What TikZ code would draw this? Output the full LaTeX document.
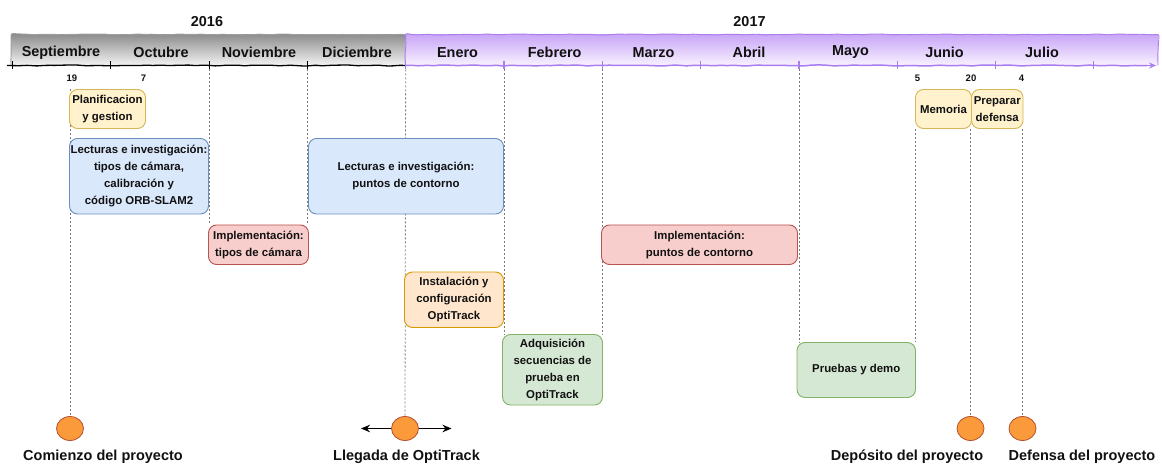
\documentclass[tikz,border=0pt]{standalone}
\usepackage{fontspec}
\setmainfont{Liberation Sans}
\usetikzlibrary{arrows.meta,shapes.geometric,decorations.pathmorphing,calc}
\definecolor{yelF}{HTML}{FFF2CC}\definecolor{yelD}{HTML}{D6B656}
\definecolor{bluF}{HTML}{DAE8FC}\definecolor{bluD}{HTML}{6C8EBF}
\definecolor{redF}{HTML}{F8CECC}\definecolor{redD}{HTML}{B85450}
\definecolor{orgF}{HTML}{FFE6CC}\definecolor{orgD}{HTML}{D79B00}
\definecolor{grnF}{HTML}{D5E8D4}\definecolor{grnD}{HTML}{82B366}
\definecolor{milF}{HTML}{FA9A3A}\definecolor{milD}{HTML}{B5502E}
\definecolor{purT}{HTML}{C9A6F7}\definecolor{purB}{HTML}{F8F2FF}\definecolor{purD}{HTML}{A97CEF}
\definecolor{gryT}{HTML}{8E8E8E}\definecolor{gryB}{HTML}{F4F4F4}
\definecolor{guideC}{HTML}{7A7A7A}
\definecolor{txt}{HTML}{111111}
\pgfdeclarelayer{background}
\pgfsetlayers{background,main}
\tikzset{
  task/.style={rounded corners=8pt, line width=0.9pt, align=center, inner sep=1pt,
    font=\fontsize{11.4}{17}\selectfont\bfseries, text=txt},
  yel/.style={task, fill=yelF, draw=yelD},
  blu/.style={task, fill=bluF, draw=bluD},
  red/.style={task, fill=redF, draw=redD},
  org/.style={task, fill=orgF, draw=orgD},
  grn/.style={task, fill=grnF, draw=grnD},
  mile/.style={ellipse, minimum width=27pt, minimum height=24pt, inner sep=0pt,
    fill=milF, draw=milD, line width=0.8pt},
  month/.style={font=\fontsize{14.4}{16}\selectfont\bfseries, text=txt},
  yearlbl/.style={font=\fontsize{14.4}{16}\selectfont\bfseries, text=txt},
  datelbl/.style={font=\fontsize{9.5}{11}\selectfont\bfseries, text=txt},
  bigcap/.style={font=\fontsize{14.5}{16}\selectfont\bfseries, text=txt},
  guide/.style={draw=guideC, line width=0.8pt, dash pattern=on 2pt off 2pt},
  sketch/.style={rounded corners=2pt, decorate,
    decoration={random steps, segment length=7pt, amplitude=0.55pt}},
  twoway/.style={draw=black, line width=1.6pt, -{Stealth[length=9pt,width=7.5pt]}},
}
\begin{document}
\begin{tikzpicture}[x=1pt,y=-1pt]
\pgfmathsetseed{7}
\useasboundingbox (0,0) rectangle (1162,465);

% ---- timeline bar ----
\shade[top color=gryT, bottom color=gryB] (11,34.5) rectangle (405.5,65.5);
\shade[top color=purT, bottom color=purB] (405.5,34.5) rectangle (1158,65.5);
\draw[sketch, draw=gray!75, line width=0.9pt] (11,65.5) -- (11,34.5) -- (405.5,34.5);
\draw[sketch, draw=purD, line width=0.9pt] (405.5,65.5) -- (405.5,34.5) -- (1158,34.5) -- (1158,65.5);
\draw[sketch, draw=black, line width=1.3pt] (7,65.5) -- (405.5,65.5);
\draw[sketch, draw=purD, line width=1.5pt] (405.5,65.5) -- (1147,65.5);
\draw[draw=purD, line width=1.5pt, -{Stealth[length=7pt,width=6pt]}] (1144,65.5) -- (1156,65.5);

\foreach \i in {0,...,11}{
  \pgfmathsetmacro{\xx}{12.5+98.3*\i}
  \coordinate (t\i) at (\xx,65.5);
}
\foreach \i in {0,...,3}{ \draw[black, line width=1pt] ($(t\i)+(0,-4)$) -- ($(t\i)+(0,4)$); }
\foreach \i in {4,...,11}{ \draw[purD, line width=1.2pt] ($(t\i)+(0,-4)$) -- ($(t\i)+(0,4)$); }

% ---- years and months ----
\node[yearlbl] (y16) at (207,21.5) {2016};
\node[yearlbl] (y17) at (749.5,21.5) {2017};
\node[month] (mSep) at (61,52.5) {Septiembre};
\node[month] (mOct) at (161,52.5) {Octubre};
\node[month] (mNov) at (259,52.5) {Noviembre};
\node[month] (mDic) at (357,52.5) {Diciembre};
\node[month] (mEne) at (457.5,52.5) {Enero};
\node[month] (mFeb) at (554.7,52.5) {Febrero};
\node[month] (mMar) at (653.5,52.5) {Marzo};
\node[month] (mAbr) at (749,52.5) {Abril};
\node[month] (mMay) at (850.5,52.5) {Mayo};
\node[month] (mJun) at (944.5,52.5) {Junio};
\node[month] (mJul) at (1042,52.5) {Julio};

% ---- dates ----
\node[datelbl] (d19) at (72,78.5) {19};
\node[datelbl] (d7) at (143.5,78.5) {7};
\node[datelbl] (d5) at (917.5,78.5) {5};
\node[datelbl] (d20) at (971,78.5) {20};
\node[datelbl] (d4) at (1021.5,78.5) {4};

% ---- task boxes ----
\node[yel, minimum width=76pt, minimum height=39pt] (plan) at (107.5,109) {Planificacion\\y gestion};
\node[blu, minimum width=139pt, minimum height=75.5pt] (lec1) at (139,176.25) {Lecturas e investigación:\\tipos de cámara,\\calibración y\\código ORB-SLAM2};
\node[red, minimum width=100pt, minimum height=39.5pt] (imp1) at (258.5,244.75) {Implementación:\\tipos de cámara};
\node[blu, minimum width=195pt, minimum height=75.5pt] (lec2) at (406,176.25) {Lecturas e investigación:\\puntos de contorno};
\node[org, minimum width=99pt, minimum height=55.5pt] (inst) at (454,299.75) {Instalación y\\configuración\\OptiTrack};
\node[grn, minimum width=100pt, minimum height=70.5pt] (adq) at (552.5,369.75) {Adquisición\\secuencias de\\prueba en\\OptiTrack};
\node[red, minimum width=196pt, minimum height=39.5pt] (imp2) at (699.5,244.75) {Implementación:\\puntos de contorno};
\node[grn, minimum width=118.5pt, minimum height=55pt] (prue) at (856.25,370) {Pruebas y demo};
\node[yel, minimum width=56pt, minimum height=39pt] (mem) at (943.5,109) {Memoria};
\node[yel, minimum width=51.5pt, minimum height=39pt] (prep) at (997.25,109) {Preparar\\defensa};

% ---- milestones ----
\node[mile] (c1) at (70,428.5) {};
\node[mile] (c2) at (405,428.5) {};
\node[mile] (c3) at (970.5,428.5) {};
\node[mile] (c4) at (1022.5,428.5) {};
\coordinate (aL) at (361,428.5);
\coordinate (aR) at (451.5,428.5);
\draw[twoway] (c2.west) -- (aL);
\draw[twoway] (c2.east) -- (aR);

\node[bigcap] (l1) at (103,457) {Comienzo del proyecto};
\node[bigcap] (l2) at (406.5,457) {Llegada de OptiTrack};
\node[bigcap] (l3) at (907,457) {Depósito del proyecto};
\node[bigcap] (l4) at (1082,457) {Defensa del proyecto};

% ---- guides (behind boxes) ----
\begin{pgfonlayer}{background}
\draw[guide] (c1.north |- plan.north) -- (c1.north);
\draw[guide] (t2) -- (t2 |- imp1.north);
\draw[guide] (t3) -- (t3 |- imp1.north);
\draw[guide] (t4) -- (c2.north);
\draw[guide] (t5) -- (t5 |- adq.north);
\draw[guide] (t6) -- (t6 |- adq.north);
\draw[guide] (t8) -- (t8 |- prue.north);
\draw[guide] (mem.south west) -- (mem.south west |- prue.north);
\draw[guide] (c3.north |- mem.south) -- (c3.north);
\draw[guide] (c4.north |- prep.south) -- (c4.north);
\end{pgfonlayer}
\end{tikzpicture}
\end{document}
